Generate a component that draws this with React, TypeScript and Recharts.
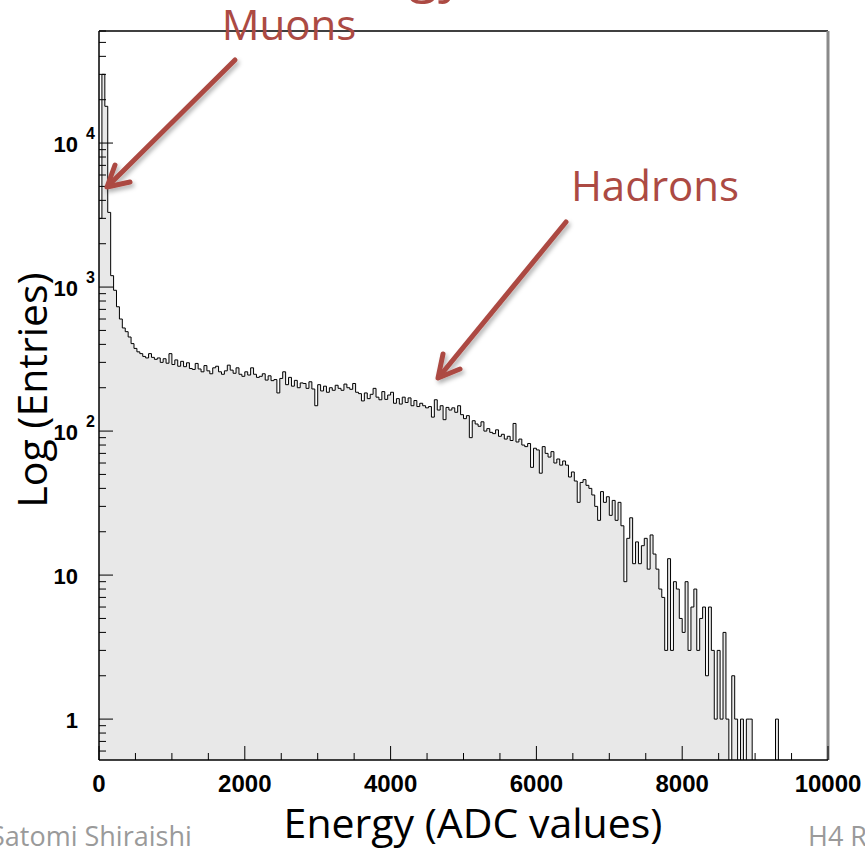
import React from "react";
import { Area, ComposedChart, ReferenceLine, XAxis, YAxis } from "recharts";

// 250 bins of 40 ADC counts each
const BIN_WIDTH = 40;
const COUNTS = [
  3000, 30000, 18000, 3300, 1200, 950, 730, 600, 520, 490,
  450, 405, 375, 355, 345, 330, 322, 345, 325, 315,
  322, 300, 318, 296, 345, 290, 312, 282, 305, 280,
  298, 272, 268, 295, 270, 258, 285, 262, 250, 275,
  282, 258, 248, 262, 287, 265, 252, 275, 248, 240,
  258, 245, 275, 248, 236, 240, 250, 226, 242, 224,
  228, 184, 232, 258, 210, 236, 205, 225, 200, 216,
  214, 198, 220, 196, 150, 210, 190, 205, 186, 200,
  192, 208, 198, 192, 212, 200, 195, 214, 186, 182,
  162, 184, 168, 180, 198, 172, 165, 188, 166, 178,
  186, 156, 168, 154, 172, 158, 170, 150, 163, 148,
  156, 150, 145, 148, 125, 165, 140, 150, 120, 146,
  140, 145, 135, 150, 130, 122, 128, 90, 118, 112,
  108, 116, 100, 104, 98, 96, 102, 92, 95, 88,
  92, 86, 113, 84, 88, 80, 78, 82, 56, 76,
  74, 51, 78, 70, 66, 72, 60, 64, 58, 62,
  58, 48, 52, 45, 32, 44, 46, 42, 40, 36,
  30, 24, 38, 32, 35, 26, 33, 24, 32, 22,
  9, 18, 25, 12, 17, 12, 16, 18, 11, 19,
  14, 11, 8, 7, 3, 13, 3, 9, 8, 5,
  4, 9, 3, 6, 8, 3, 5, 6, 2, 6,
  3, 1, 3, 1, 4, 1, 0, 2, 1, 0,
  1, 0, 1, 1, 0, 0, 0, 0, 0, 0,
  0, 0, 1, 0, 0, 0, 0, 0, 0, 0,
  0, 0, 0, 0, 0, 0, 0, 0, 0, 0,
];

const X_TICKS = [
  0, 500, 1000, 1500, 2000, 2500, 3000, 3500, 4000, 4500, 5000,
  5500, 6000, 6500, 7000, 7500, 8000, 8500, 9000, 9500, 10000,
];
const X_LABELS = [0, 2000, 4000, 6000, 8000, 10000];

const Y_TICKS = [
  0.6, 0.7, 0.8, 0.9,
  1, 2, 3, 4, 5, 6, 7, 8, 9,
  10, 20, 30, 40, 50, 60, 70, 80, 90,
  100, 200, 300, 400, 500, 600, 700, 800, 900,
  1000, 2000, 3000, 4000, 5000, 6000, 7000, 8000, 9000,
  10000, 20000, 30000, 40000, 50000, 60000,
];
const DECADES = [1, 10, 100, 1000, 10000];
const DECADE_BASE = ["1", "10", "10", "10", "10"];
const DECADE_EXP = ["", "", "2", "3", "4"];

const RED = "#ac4a43";
const TICK_FONT = "'Liberation Sans', Arial, Helvetica, sans-serif";
const SLIDE_FONT = "'Open Sans', 'Noto Sans', sans-serif";

// empty bins go below the axis minimum so the outline drops out of the frame
const data = COUNTS.map((c, i) => ({ x: i * BIN_WIDTH, v: c > 0 ? c : 0.01 })).concat([
  { x: COUNTS.length * BIN_WIDTH, v: 0.01 },
]);

function XTick({ x, y, payload }: any) {
  const v = payload.value;
  const major = X_LABELS.includes(v);
  return (
    <g>
      <line x1={x} x2={x} y1={y} y2={y - (major ? 14 : 7)} stroke="#000" strokeWidth={1} />
      {major && (
        <text x={x} y={y + 32} textAnchor="middle" fontFamily={TICK_FONT} fontWeight="bold" fontSize={24} fill="#000">
          {v}
        </text>
      )}
    </g>
  );
}

function YTick({ x, y, payload }: any) {
  const idx = DECADES.indexOf(payload.value);
  const major = idx >= 0;
  return (
    <g>
      <line x1={x} x2={x + (major ? 14 : 7)} y1={y} y2={y} stroke="#000" strokeWidth={1} />
      {major && (
        <text x={x - 21} y={y + 9} textAnchor="end" fontFamily={TICK_FONT} fontWeight="bold" fontSize={22} fill="#000">
          {DECADE_BASE[idx]}
        </text>
      )}
      {major && DECADE_EXP[idx] && (
        <text x={x - 13} y={y - 4} fontFamily={TICK_FONT} fontWeight="bold" fontSize={16} fill="#000">
          {DECADE_EXP[idx]}
        </text>
      )}
    </g>
  );
}

export default function App() {
  return (
    <div style={{ position: "absolute", left: 0, top: 0, width: 865, height: 848, background: "#fff", overflow: "hidden" }}>
      <ComposedChart width={865} height={848} data={data} margin={{ top: 31, right: 37, bottom: 0, left: 0 }}>
        <Area
          type="stepAfter"
          dataKey="v"
          stroke="#000"
          strokeWidth={1}
          fill="#e8e8e8"
          fillOpacity={1}
          dot={false}
          activeDot={false}
          isAnimationActive={false}
        />
        <ReferenceLine y={60000} stroke="#000" strokeWidth={1.5} ifOverflow="extendDomain" />
        <ReferenceLine x={10000} stroke="#8a8a8a" strokeWidth={3} ifOverflow="extendDomain" />
        <XAxis
          dataKey="x"
          type="number"
          domain={[0, 10000]}
          ticks={X_TICKS}
          interval={0}
          allowDataOverflow
          height={88}
          tickSize={0}
          tickMargin={0}
          tickLine={false}
          axisLine={{ stroke: "#000", strokeWidth: 1.5 }}
          tick={<XTick />}
        />
        <YAxis
          type="number"
          scale="log"
          domain={[0.52, 60000]}
          ticks={Y_TICKS}
          interval={0}
          allowDataOverflow
          width={99}
          tickSize={0}
          tickMargin={0}
          tickLine={false}
          axisLine={{ stroke: "#000", strokeWidth: 1.5 }}
          tick={<YTick />}
        />
      </ComposedChart>

      <svg width={865} height={848} style={{ position: "absolute", left: 0, top: 0, pointerEvents: "none" }}>
        <defs>
          <filter id="arrowShadow" x="-20%" y="-20%" width="140%" height="140%">
            <feDropShadow dx="2" dy="3" stdDeviation="2" floodColor="#000" floodOpacity="0.3" />
          </filter>
        </defs>
        <text x={465} y={-9} textAnchor="end" fill={RED} fontSize={54} fontFamily={SLIDE_FONT}>
          Energy
        </text>
        <text x={289} y={40} textAnchor="middle" fill={RED} fontSize={42} fontFamily={SLIDE_FONT}>
          Muons
        </text>
        <text x={655} y={201} textAnchor="middle" fill={RED} fontSize={42} fontFamily={SLIDE_FONT}>
          Hadrons
        </text>
        <g stroke={RED} strokeWidth={5} strokeLinecap="round" strokeLinejoin="round" fill="none" filter="url(#arrowShadow)">
          <line x1={235} y1={60} x2={108} y2={186} />
          <polyline points="115,165 107,187 130,182" />
          <line x1={566} y1={222} x2={439} y2={377} />
          <polyline points="443,354 438,378 460,369" />
        </g>
        <text
          transform="translate(47,390) rotate(-90)"
          textAnchor="middle"
          fill="#000"
          fontSize={41}
          fontFamily={SLIDE_FONT}
        >
          Log (Entries)
        </text>
        <text x={473} y={838} textAnchor="middle" fill="#000" fontSize={41} fontFamily={SLIDE_FONT}>
          Energy (ADC values)
        </text>
        <text x={-10} y={846} fill="#9a9a9a" fontSize={27} fontFamily={SLIDE_FONT}>
          Satomi Shiraishi
        </text>
        <text x={808} y={846} fill="#9a9a9a" fontSize={27} fontFamily={SLIDE_FONT}>
          H4 R
        </text>
      </svg>
    </div>
  );
}
